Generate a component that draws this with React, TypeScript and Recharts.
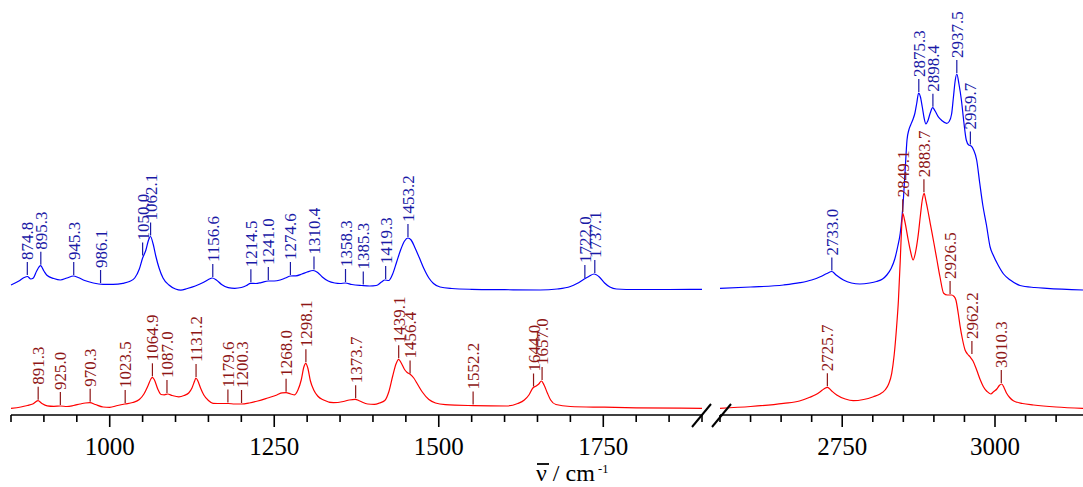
import React from 'react';
import { ComposedChart, Line, XAxis, YAxis } from 'recharts';

const FONT = "Liberation Serif, DejaVu Serif, serif";
const BLUE = '#0000ff';
const RED = '#ff0000';
const BLUE_LABEL = '#1a1aa6';
const RED_LABEL = '#8e1616';

// ---------- left panel (850–1900 cm-1) ----------
const blueLeftNu = [850, 862, 870, 875, 880, 884, 889, 895, 900, 905, 915, 925, 935, 945, 952, 962, 975, 990, 1005, 1020, 1030, 1038, 1045, 1050, 1055, 1059, 1062, 1066, 1070, 1075, 1081, 1090, 1100, 1108, 1118, 1130, 1142, 1150, 1156, 1162, 1170, 1180, 1190, 1200, 1208, 1214, 1222, 1230, 1241, 1250, 1259, 1267, 1275, 1283, 1292, 1300, 1309, 1316, 1323, 1332, 1342, 1350, 1358, 1368, 1383, 1395, 1405, 1413, 1418, 1424, 1430, 1436, 1442, 1448, 1453, 1458, 1464, 1470, 1477, 1485, 1492, 1502, 1520, 1550, 1600, 1654, 1680, 1700, 1710, 1720, 1728, 1736, 1744, 1752, 1760, 1770, 1800, 1850, 1900];
const blueLeftI = [130, 134, 137.5, 138.5, 136, 137, 144, 149.3, 144, 139.5, 136.5, 135, 137, 139, 137.5, 134.5, 132, 130.7, 130.7, 131.7, 133.5, 137, 146, 157, 165, 175, 178.5, 171, 159, 147, 137, 130, 126, 124.8, 126.5, 129, 132.5, 135.5, 137, 135, 130.5, 127.3, 126.7, 127.5, 129.5, 131.7, 131.5, 132.4, 134, 134, 135, 137, 139, 139.2, 141, 143, 144.5, 142.5, 138, 134, 132, 131.5, 132, 130.5, 129.5, 129, 129.5, 133, 135, 134.5, 141, 153, 165, 174, 177, 175, 167, 158, 147, 137, 131.5, 128, 126.5, 125.7, 125.3, 125, 126, 128.5, 131.5, 135.5, 138.5, 141, 138, 132, 128, 126, 125.5, 125.5, 125.7];

const redLeftNu = [850, 865, 875, 883, 891, 897, 905, 915, 925, 935, 945, 955, 963, 970, 978, 990, 1000, 1012, 1023, 1035, 1045, 1052, 1058, 1063, 1065, 1068, 1073, 1078, 1083, 1088, 1095, 1105, 1113, 1120, 1125, 1129, 1131, 1134, 1138, 1143, 1150, 1157, 1170, 1180, 1190, 1200, 1212, 1225, 1240, 1254, 1262, 1268, 1275, 1281, 1286, 1291, 1295, 1298, 1301, 1305, 1310, 1316, 1325, 1340, 1355, 1364, 1373, 1380, 1392, 1402, 1410, 1418, 1424, 1430, 1435, 1439, 1443, 1448, 1452, 1457, 1462, 1468, 1475, 1485, 1495, 1510, 1553, 1603, 1620, 1630, 1637, 1643, 1648, 1652, 1656, 1660, 1665, 1670, 1678, 1700, 1750, 1800, 1900];
const redLeftI = [6.7, 8, 9.5, 11, 14.3, 11.5, 9.2, 8.7, 9, 8.5, 9.5, 11, 12, 12.3, 10.5, 8, 7.7, 9.5, 11, 12.5, 15.5, 21, 29, 36.5, 37.7, 35, 26, 20.5, 20.2, 21, 19.5, 18.2, 19.5, 22, 27, 34, 37, 34, 27, 20, 14.5, 11.7, 11.5, 11.5, 11, 11, 12, 14, 17, 20, 22.2, 22.3, 21, 20.2, 25, 35, 48, 51.7, 47, 34, 25, 19, 15, 12.3, 13.5, 15, 15.7, 14, 11, 10.7, 12, 14.5, 23, 39, 51, 55.7, 52, 45.5, 42.5, 40.5, 37, 30.5, 23, 15.5, 12, 10.3, 9.4, 9, 11.5, 15, 20, 27, 29, 31, 34, 30, 22, 15, 10.5, 8.5, 7.8, 7.2, 6.7];

const blueLeftPeakNu = [874.8, 895.3, 945.3, 986.1, 1050.0, 1062.1, 1156.6, 1214.5, 1241.0, 1274.6, 1310.4, 1358.3, 1385.3, 1419.3, 1453.2, 1722.0, 1737.1];
const blueLeftPeakI = [139, 149.3, 139, 131, 158.5, 178.5, 137, 131.7, 134, 139, 144.5, 132, 129.5, 135, 177, 136, 141];

const redLeftPeakNu = [891.3, 925.0, 970.3, 1023.5, 1064.9, 1087.0, 1131.2, 1179.6, 1200.3, 1268.0, 1298.1, 1373.7, 1439.1, 1456.4, 1552.2, 1644.0, 1657.0];
const redLeftPeakI = [14.3, 9, 12.3, 11, 37.7, 21, 37, 11.5, 11, 22.3, 51.7, 15.7, 55.7, 40.5, 9.4, 27.5, 34];

// ---------- right panel (2550–3144 cm-1) ----------
const blueRightNu = [2550, 2600, 2654, 2681, 2700, 2715, 2725, 2733, 2740, 2752, 2765, 2779, 2795, 2806, 2816, 2823, 2830, 2836, 2841, 2845, 2850, 2853, 2856, 2859, 2862, 2866, 2869, 2872, 2875, 2878, 2881, 2884, 2887, 2890, 2894, 2898, 2902, 2907, 2913, 2921, 2925, 2929, 2932, 2935, 2937.5, 2941, 2945, 2949, 2953, 2957, 2961, 2965, 2970, 2975, 2980, 2986, 2992, 2997, 3005, 3014, 3025, 3041, 3065, 3085, 3144];
const blueRightI = [126.7, 128, 130, 132.3, 135, 138.5, 141.5, 143.5, 140, 135, 132, 131, 132, 133.5, 136, 140, 146.5, 156, 169, 182, 215, 245, 275, 285, 290, 296, 302, 312, 322, 318, 308, 297, 291, 294, 302, 307.3, 304, 298.3, 294.5, 291.7, 293.5, 301, 318, 335, 341, 331, 315, 293, 275, 270, 269, 265, 255, 232, 210, 190, 168, 160, 150, 141, 135, 129.5, 127.5, 126.7, 125];

const redRightNu = [2550, 2600, 2654, 2680, 2697, 2707, 2714, 2720, 2726, 2732, 2741, 2755, 2768, 2785, 2801, 2812, 2820, 2826, 2831, 2835, 2839, 2842, 2845, 2847, 2849, 2852, 2858, 2862, 2866, 2870, 2874, 2878, 2881, 2884, 2887, 2890, 2894, 2900, 2905, 2910, 2916, 2922, 2929, 2933, 2936, 2940, 2943, 2947, 2951, 2955, 2959, 2964, 2970, 2976, 2981, 2987, 2993, 2998, 3003, 3007, 3011, 3015, 3019, 3024, 3030, 3045, 3063, 3100, 3144];
const redRightI = [6.7, 8.5, 11.7, 14, 17.7, 20.5, 23.3, 26, 27.7, 24.5, 20, 16, 14.3, 15.5, 18.3, 21, 25, 31, 41.7, 60, 88.3, 115, 155, 185, 201.7, 195, 175, 163, 155, 163, 178.3, 200, 215, 221.7, 214, 205, 191.7, 172, 155, 138, 121.7, 120, 120, 118.5, 115, 101, 88.3, 75, 65, 61, 58.3, 54, 45, 35, 28.3, 23.5, 21, 23.5, 26, 29.5, 31, 27, 21.7, 17.5, 14.3, 11.5, 10, 8, 6.7];

const blueRightPeakNu = [2733.0, 2875.3, 2898.4, 2937.5, 2959.7];
const blueRightPeakI = [143.5, 322, 307.3, 341, 269.5];

const redRightPeakNu = [2725.7, 2849.1, 2883.7, 2926.5, 2962.2, 3010.3];
const redRightPeakI = [27.7, 201.7, 221.7, 120, 60, 31];

// ---------- axis settings ----------
const leftDomain: [number, number] = [850, 1900];
const rightDomain: [number, number] = [2550, 3144];
const leftTicks = Array.from({ length: 22 }, (_, i) => 850 + i * 50);
const rightTicks = Array.from({ length: 12 }, (_, i) => 2550 + i * 50);
const yDomain: [number, number] = [0, 415];

const zip = (nu: number[], I: number[]) => nu.map((n, i) => ({ nu: n, I: I[i] }));

const AxisTick = (props: any) => {
  const { x, y, payload } = props;
  const v = payload.value;
  const major = v % 250 === 0;
  return (
    <g>
      <line x1={x} x2={x} y1={y} y2={y + (major ? 12 : 7)} stroke="#000" strokeWidth={1.6} />
      {major && (
        <text x={x} y={y + 40} textAnchor="middle" fill="#000" fontFamily={FONT} fontSize={25}>
          {v}
        </text>
      )}
    </g>
  );
};

const makePeakDot = (color: string, prefix: string) => (props: any) => {
  const { cx, cy, payload, index } = props;
  const tx = cx + 6;
  const ty = cy - 16;
  return (
    <g key={`${prefix}-${index}`}>
      <line x1={cx} x2={cx} y1={cy - 1} y2={cy - 14} stroke={color} strokeWidth={1.2} />
      <text x={tx} y={ty} transform={`rotate(-90 ${tx} ${ty})`} fill={color} fontFamily={FONT} fontSize={17}>
        {payload.nu.toFixed(1)}
      </text>
    </g>
  );
};

const Panel = (p: {
  width: number; margin: any; domain: [number, number]; ticks: number[];
  blue: any[]; red: any[]; bluePk: any[]; redPk: any[]; id: string;
}) => (
  <ComposedChart width={p.width} height={487} margin={p.margin}>
    <XAxis
      dataKey="nu" type="number" domain={p.domain} ticks={p.ticks} allowDecimals
      height={72} tickSize={0} tickMargin={0} tickLine={false}
      axisLine={{ stroke: '#000', strokeWidth: 1.6 }} tick={<AxisTick />} interval={0}
    />
    <YAxis type="number" domain={yDomain} hide />
    <Line data={p.blue} dataKey="I" type="monotone" stroke={BLUE} strokeWidth={1.2} dot={false} isAnimationActive={false} />
    <Line data={p.red} dataKey="I" type="monotone" stroke={RED} strokeWidth={1.2} dot={false} isAnimationActive={false} />
    <Line data={p.bluePk} dataKey="I" stroke="none" dot={makePeakDot(BLUE_LABEL, p.id + 'b')} activeDot={false} isAnimationActive={false} />
    <Line data={p.redPk} dataKey="I" stroke="none" dot={makePeakDot(RED_LABEL, p.id + 'r')} activeDot={false} isAnimationActive={false} />
  </ComposedChart>
);

export default function App() {
  return (
    <div style={{ position: 'absolute', left: 0, top: 0, width: 1083, height: 487, background: '#fff', overflow: 'hidden', fontFamily: FONT }}>
      <div style={{ position: 'absolute', left: 0, top: 0 }}>
        <Panel
          id="L" width={712} margin={{ top: 0, right: 10, bottom: 0, left: 11 }}
          domain={leftDomain} ticks={leftTicks}
          blue={zip(blueLeftNu, blueLeftI)} red={zip(redLeftNu, redLeftI)}
          bluePk={zip(blueLeftPeakNu, blueLeftPeakI)} redPk={zip(redLeftPeakNu, redLeftPeakI)}
        />
      </div>
      <div style={{ position: 'absolute', left: 700, top: 0 }}>
        <Panel
          id="R" width={383} margin={{ top: 0, right: 0, bottom: 0, left: 20 }}
          domain={rightDomain} ticks={rightTicks}
          blue={zip(blueRightNu, blueRightI)} red={zip(redRightNu, redRightI)}
          bluePk={zip(blueRightPeakNu, blueRightPeakI)} redPk={zip(redRightPeakNu, redRightPeakI)}
        />
      </div>
      <svg width={1083} height={487} style={{ position: 'absolute', left: 0, top: 0, pointerEvents: 'none' }}>
        <line x1={692} y1={427} x2={711} y2={404} stroke="#000" strokeWidth={2} />
        <line x1={712} y1={427} x2={731} y2={404} stroke="#000" strokeWidth={2} />
        <line x1={537} y1={464} x2={549} y2={464} stroke="#000" strokeWidth={1.8} />
        <text x={536} y={481} fill="#000" fontFamily={FONT} fontSize={24}>ν / cm</text>
        <text x={598} y={473} fill="#000" fontFamily={FONT} fontSize={12.5}>-1</text>
      </svg>
    </div>
  );
}
